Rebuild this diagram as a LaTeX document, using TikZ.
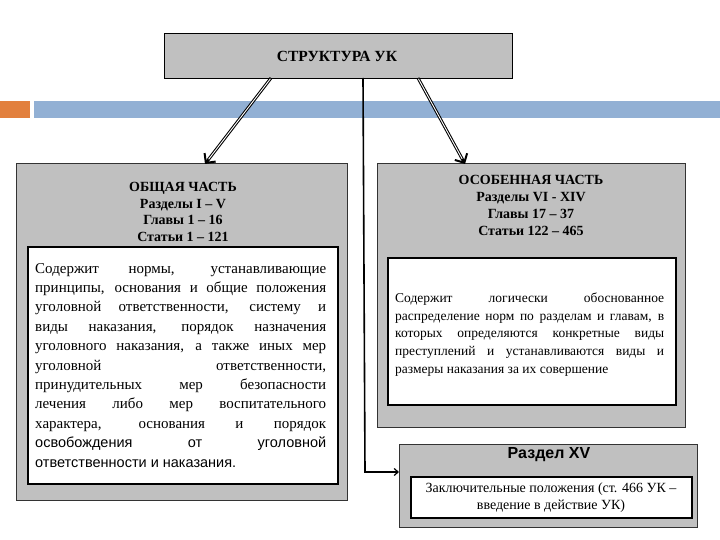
\documentclass[tikz,border=0pt]{standalone}
\usepackage{fontspec}
\setmainfont{Liberation Serif}
\newfontfamily\sansf{Liberation Sans}
\usetikzlibrary{arrows.meta}
\definecolor{boxgrey}{RGB}{192,192,192}
\definecolor{barblue}{RGB}{146,176,212}
\definecolor{barorange}{RGB}{226,128,62}
\tikzset{
  outerbox/.style={draw=black!80, line width=0.8pt, fill=boxgrey, inner sep=0pt, outer sep=0pt, anchor=north west},
  innerbox/.style={draw=black, line width=1.8pt, fill=white, inner sep=0pt, outer sep=0pt, anchor=north west},
  title/.style={font=\bfseries\fontsize{14}{16.7}\selectfont, align=center, inner sep=0pt},
  dblarrow/.style={draw=black, line width=3pt, -{Straight Barb[length=7pt,width=14pt,line width=2pt]}},
  dblinner/.style={draw=white, line width=0.9pt, shorten >=6pt, shorten <=1pt},
}
\begin{document}
\begin{tikzpicture}[x=1pt,y=-1pt]
\useasboundingbox (0,0) rectangle (720,540);
% header bars
\fill[barorange] (0,101) rectangle (30,118);
\fill[barblue] (34,101) rectangle (720,118);
% top box
\node[outerbox, draw=black, minimum width=348pt, minimum height=45pt] (top) at (164,33) {};
\node[title, font=\bfseries\fontsize{15.5}{18}\selectfont] (toptxt) at (337,56) {СТРУКТУРА УК};
% left
\node[outerbox, minimum width=331pt, minimum height=337pt] (left) at (16,163) {};
\node[title, anchor=north] (lefttitle) at (183,182) {ОБЩАЯ ЧАСТЬ\\Разделы I – V\\Главы 1 – 16\\Статьи 1 – 121};
\node[innerbox, minimum width=310pt, minimum height=237pt] (leftin) at (28,247) {};
\node[anchor=north west, inner sep=0pt, text width=291pt, align=justify,
  font=\fontsize{15}{19.4}\selectfont] (lefttxt) at (35,263) {%
Содержит нормы, устанавливающие\linebreak
принципы, основания и общие положения\linebreak
уголовной ответственности, систему и\linebreak
виды наказания, порядок назначения\linebreak
уголовного наказания, а также иных мер\linebreak
уголовной ответственности,\linebreak
принудительных мер безопасности\linebreak
лечения либо мер воспитательного\linebreak
характера, основания и порядок\linebreak
{\sansf\fontsize{14.5}{19.4}\selectfont освобождения от уголовной\linebreak
ответственности и наказания.}};
% right
\node[outerbox, minimum width=308pt, minimum height=264pt] (right) at (377,163) {};
\node[title, anchor=north] (righttitle) at (531,175.5) {ОСОБЕННАЯ ЧАСТЬ\\Разделы VI - XIV\\Главы 17 – 37\\Статьи 122 – 465};
\node[innerbox, minimum width=288pt, minimum height=147pt] (rightin) at (388,258) {};
\node[anchor=north west, inner sep=0pt, text width=269pt, align=justify,
  font=\fontsize{13.5}{17.75}\selectfont] (righttxt) at (395,292.5) {%
Содержит логически обоснованное\linebreak
распределение норм по разделам и главам, в\linebreak
которых определяются конкретные виды\linebreak
преступлений и устанавливаются виды и\linebreak
размеры наказания за их совершение};
% bottom
\node[outerbox, minimum width=298pt, minimum height=83pt] (bot) at (399,444) {};
\node[font=\sansf\bfseries\fontsize{16}{18}\selectfont, inner sep=0pt] (bottitle) at (549,455) {Раздел XV};
\node[innerbox, minimum width=281pt, minimum height=41pt] (botin) at (411,477) {};
\node[align=center, inner sep=0pt, font=\fontsize{14}{17}\selectfont] (bottxt) at (551,498) {Заключительные положения (ст. 466 УК –\\введение в действие УК)};
% connectors
\coordinate (la) at ([xshift=-67pt]top.south);
\coordinate (lb) at ([xshift=189pt,yshift=-1pt]left.north west);
\coordinate (ra) at ([xshift=80pt]top.south);
\coordinate (rb) at ([xshift=88pt,yshift=-1pt]right.north west);
\draw[dblarrow] (la) -- (lb);
\draw[dblinner] (la) -- (lb);
\draw[dblarrow] (ra) -- (rb);
\draw[dblinner] (ra) -- (rb);
\coordinate (mid) at ([xshift=25pt]top.south);
\coordinate (corner) at (365,472);
\draw[line width=1.6pt, -{Straight Barb[length=4pt,width=7pt,line width=1.2pt]}] (mid) -- (corner) -- (corner -| bot.west);
\end{tikzpicture}
\end{document}
